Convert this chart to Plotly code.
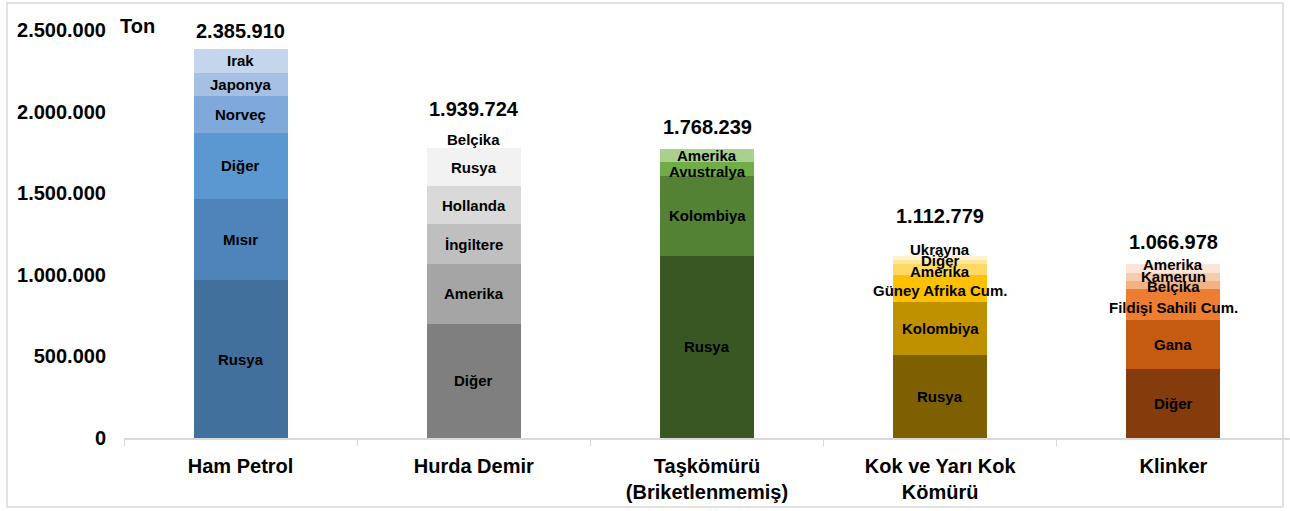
import plotly.graph_objects as go

categories = ["Ham Petrol", "Hurda Demir", "Taşkömürü<br>(Briketlenmemiş)", "Kok ve Yarı Kok<br>Kömürü", "Klinker"]
totals = [2385910, 1939724, 1768239, 1112779, 1066978]

ham_countries = ["Rusya", "Mısır", "Diğer", "Norveç", "Japonya", "Irak"]
ham_values = [968000, 496000, 407000, 225000, 142000, 147910]
ham_colors = ["#42709D", "#4E84BA", "#5B97D0", "#7EA9DA", "#A5C0E3", "#C5D5EC"]

hurda_countries = ["Diğer", "Amerika", "İngiltere", "Hollanda", "Rusya", "Belçika"]
hurda_values = [699000, 367000, 245000, 233000, 233000, 162724]
hurda_colors = ["#7F7F7F", "#A5A5A5", "#BFBFBF", "#D9D9D9", "#F2F2F2", "#FFFFFF"]

tas_countries = ["Rusya", "Kolombiya", "Avustralya", "Amerika"]
tas_values = [1117000, 490000, 86000, 75239]
tas_colors = ["#385723", "#548235", "#70AD47", "#A9D18E"]

kok_countries = ["Rusya", "Kolombiya", "Güney Afrika Cum.", "Amerika", "Diğer", "Ukrayna"]
kok_values = [509000, 326000, 164000, 67000, 25000, 21779]
kok_colors = ["#7F6000", "#BF9000", "#FFC000", "#FFD966", "#FFE699", "#FFF2CC"]

klinker_countries = ["Diğer", "Gana", "Fildişi Sahili Cum.", "Belçika", "Kamerun", "Amerika"]
klinker_values = [422000, 304000, 184000, 51000, 52000, 53978]
klinker_colors = ["#843C0C", "#C55A11", "#ED7D31", "#F4B183", "#F8CBAD", "#FBE5D6"]

groups = [
    (ham_countries, ham_values, ham_colors, {}),
    (hurda_countries, hurda_values, hurda_colors, {"Belçika": -5}),
    (tas_countries, tas_values, tas_colors, {"Avustralya": -3}),
    (kok_countries, kok_values, kok_colors, {"Ukrayna": 9, "Diğer": 1, "Amerika": -2, "Güney Afrika Cum.": -2}),
    (klinker_countries, klinker_values, klinker_colors, {"Amerika": 4, "Belçika": -1, "Fildişi Sahili Cum.": -3}),
]
total_shifts = [18, 12, 22, 40, 22]

FONT = "Arial, Liberation Sans, sans-serif"

fig = go.Figure()
annotations = []
for ci, (names, vals, cols, shifts) in enumerate(groups):
    cat = categories[ci]
    base = 0
    for n, v, c in zip(names, vals, cols):
        fig.add_trace(go.Bar(x=[cat], y=[v], marker=dict(color=c, line=dict(width=0)),
                             showlegend=False, hoverinfo="skip"))
        annotations.append(dict(x=cat, y=base + v / 2, text=n, showarrow=False,
                                xref="x", yref="y", yshift=shifts.get(n, 0),
                                font=dict(family=FONT, size=15, color="#000000", weight="bold")))
        base += v
    annotations.append(dict(x=cat, y=totals[ci], text=f"{totals[ci]:,}".replace(",", "."),
                            showarrow=False, xref="x", yref="y", yshift=total_shifts[ci],
                            font=dict(family=FONT, size=20, color="#000000", weight="bold")))

annotations.append(dict(x=-0.005, y=1.0, xref="paper", yref="paper", text="Ton",
                        showarrow=False, xanchor="left", yanchor="bottom", yshift=-9,
                        font=dict(family=FONT, size=20, color="#000000", weight="bold")))

plot_left, plot_right, plot_top, plot_bottom = 124, 1290, 30, 438
W, H = 1290, 511
pw, ph = plot_right - plot_left, plot_bottom - plot_top

def px_x(p):
    return (p - plot_left) / pw

def px_y(p):
    return (plot_bottom - p) / ph

fig.update_layout(
    width=W, height=H,
    margin=dict(l=plot_left, r=W - plot_right, t=plot_top, b=H - plot_bottom, autoexpand=False),
    barmode="stack", bargap=0.597,
    plot_bgcolor="#FFFFFF", paper_bgcolor="#FFFFFF",
    separators=",.",
    annotations=annotations,
    shapes=[dict(type="rect", xref="paper", yref="paper",
                 x0=px_x(7), x1=px_x(1283), y0=px_y(507), y1=px_y(3),
                 line=dict(color="#D9D9D9", width=1.5), fillcolor="rgba(0,0,0,0)", layer="below")],
    xaxis=dict(showline=True, linecolor="#D9D9D9", linewidth=1.5, ticks="outside",
               tickson="boundaries", ticklen=6, tickcolor="#D9D9D9", showgrid=False,
               range=[-0.5, 4.5], categoryorder="array", categoryarray=categories,
               ticklabelstandoff=9,
               tickfont=dict(family=FONT, size=20, color="#000000", weight="bold"), fixedrange=True),
    yaxis=dict(range=[0, 2500000], tickvals=[0, 500000, 1000000, 1500000, 2000000, 2500000],
               tickformat=",d", showgrid=False, showline=False, zeroline=False,
               ticklabelstandoff=17,
               tickfont=dict(family=FONT, size=20, color="#000000", weight="bold"), fixedrange=True),
)

fig.write_html("out.html", config={"displayModeBar": False},
               post_script="document.body.style.margin='0';document.body.style.overflow='hidden';")
